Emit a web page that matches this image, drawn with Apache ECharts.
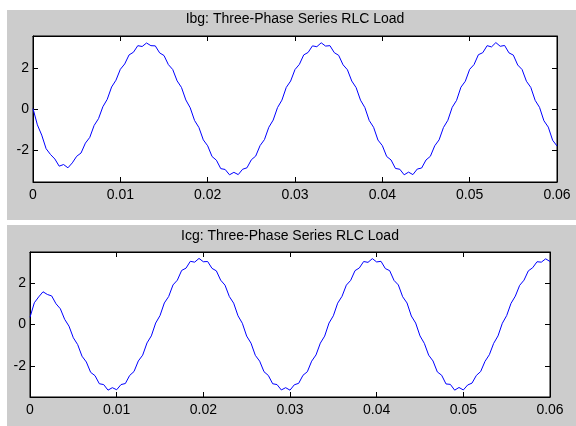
<!DOCTYPE html>
<html>
<head>
<meta charset="utf-8">
<script src="https://cdn.jsdelivr.net/npm/echarts@6/dist/echarts.min.js"></script>
<style>
  html, body { margin: 0; padding: 0; background: #ffffff; }
  #chart { width: 576px; height: 426px; }
</style>
</head>
<body>
<div id="chart"></div>
<script>
  // sample times (s)
  const sampleTimes = [
    0, 0.0005, 0.001, 0.0015, 0.002, 0.0025, 0.003, 0.0035, 0.004, 0.0045,
    0.005, 0.0055, 0.006, 0.0065, 0.007, 0.0075, 0.008, 0.0085, 0.009, 0.0095,
    0.01, 0.0105, 0.011, 0.0115, 0.012, 0.0125, 0.013, 0.0135, 0.014, 0.0145,
    0.015, 0.0155, 0.016, 0.0165, 0.017, 0.0175, 0.018, 0.0185, 0.019, 0.0195,
    0.02, 0.0205, 0.021, 0.0215, 0.022, 0.0225, 0.023, 0.0235, 0.024, 0.0245,
    0.025, 0.0255, 0.026, 0.0265, 0.027, 0.0275, 0.028, 0.0285, 0.029, 0.0295,
    0.03, 0.0305, 0.031, 0.0315, 0.032, 0.0325, 0.033, 0.0335, 0.034, 0.0345,
    0.035, 0.0355, 0.036, 0.0365, 0.037, 0.0375, 0.038, 0.0385, 0.039, 0.0395,
    0.04, 0.0405, 0.041, 0.0415, 0.042, 0.0425, 0.043, 0.0435, 0.044, 0.0445,
    0.045, 0.0455, 0.046, 0.0465, 0.047, 0.0475, 0.048, 0.0485, 0.049, 0.0495,
    0.05, 0.0505, 0.051, 0.0515, 0.052, 0.0525, 0.053, 0.0535, 0.054, 0.0545,
    0.055, 0.0555, 0.056, 0.0565, 0.057, 0.0575, 0.058, 0.0585, 0.059, 0.0595,
    0.06
  ];

  const ibgValues = [
    0.02, -0.77, -1.27, -1.93, -2.21, -2.43, -2.78, -2.70, -2.86, -2.62,
    -2.30, -2.14, -1.66, -1.38, -0.80, -0.47, 0.11, 0.47, 1.07, 1.40,
    1.93, 2.19, 2.63, 2.76, 3.08, 3.04, 3.21, 3.08, 3.07, 2.73,
    2.60, 2.16, 1.92, 1.37, 1.05, 0.44, 0.06, -0.56, -0.90, -1.50,
    -1.79, -2.31, -2.49, -2.90, -2.94, -3.20, -3.08, -3.19, -2.93, -2.86,
    -2.47, -2.29, -1.78, -1.49, -0.89, -0.54, 0.07, 0.43, 1.05, 1.36,
    1.92, 2.17, 2.63, 2.75, 3.07, 3.03, 3.22, 3.06, 3.08, 2.74,
    2.61, 2.15, 1.91, 1.36, 1.04, 0.43, 0.07, -0.56, -0.89, -1.51,
    -1.78, -2.31, -2.48, -2.89, -2.93, -3.20, -3.07, -3.19, -2.92, -2.87,
    -2.48, -2.30, -1.79, -1.50, -0.90, -0.55, 0.08, 0.42, 1.06, 1.35,
    1.93, 2.16, 2.64, 2.74, 3.08, 3.02, 3.23, 3.05, 3.09, 2.73,
    2.62, 2.14, 1.92, 1.35, 1.05, 0.42, 0.08, -0.57, -0.88, -1.52,
    -1.80
  ];

  const icgValues = [
    0.35, 1.05, 1.33, 1.58, 1.45, 1.38, 1.00, 0.76, 0.25, -0.08,
    -0.64, -0.97, -1.53, -1.81, -2.31, -2.47, -2.86, -2.90, -3.17, -3.05,
    -3.15, -2.90, -2.85, -2.46, -2.27, -1.76, -1.48, -0.89, -0.55, 0.07,
    0.43, 1.04, 1.35, 1.91, 2.14, 2.61, 2.72, 3.05, 3.01, 3.19,
    3.03, 3.04, 2.71, 2.59, 2.14, 1.90, 1.35, 1.03, 0.42, 0.06,
    -0.56, -0.90, -1.49, -1.77, -2.28, -2.46, -2.86, -2.90, -3.16, -3.05,
    -3.17, -2.91, -2.84, -2.45, -2.28, -1.77, -1.47, -0.90, -0.56, 0.07,
    0.42, 1.03, 1.36, 1.90, 2.13, 2.60, 2.73, 3.04, 3.00, 3.18,
    3.02, 3.05, 2.70, 2.60, 2.13, 1.91, 1.34, 1.04, 0.41, 0.07,
    -0.55, -0.91, -1.48, -1.76, -2.29, -2.45, -2.87, -2.89, -3.17, -3.04,
    -3.16, -2.92, -2.83, -2.46, -2.27, -1.78, -1.46, -0.91, -0.55, 0.06,
    0.43, 1.02, 1.37, 1.89, 2.14, 2.59, 2.74, 3.03, 3.01, 3.17,
    3.04
  ];

  const yTickValues = [-2, 0, 2];
  const titles = ['Ibg: Three-Phase Series RLC Load', 'Icg: Three-Phase Series RLC Load'];

  const FONT = 'Liberation Sans, Arial, sans-serif';
  const BLACK = '#000000';

  function pairs(values) {
    return sampleTimes.map((t, i) => [t, values[i]]);
  }

  function xAxisFor(gridIndex, position) {
    return {
      type: 'value',
      gridIndex: gridIndex,
      position: position,
      min: 0,
      max: 0.06,
      interval: 0.01,
      axisLine: { show: true, onZero: false, lineStyle: { color: BLACK, width: 1 } },
      axisTick: { show: true, inside: true, length: 5, lineStyle: { color: BLACK } },
      axisLabel: {
        show: position === 'bottom',
        color: BLACK,
        fontFamily: FONT,
        fontSize: 14,
        margin: 6
      },
      splitLine: { show: false }
    };
  }

  function yAxisFor(gridIndex, position, lim) {
    return {
      type: 'value',
      gridIndex: gridIndex,
      position: position,
      min: -lim,
      max: lim,
      axisLine: { show: true, onZero: false, lineStyle: { color: BLACK, width: 1 } },
      axisTick: { show: true, inside: true, length: 5, customValues: yTickValues, lineStyle: { color: BLACK } },
      axisLabel: {
        show: position === 'left',
        customValues: yTickValues,
        color: BLACK,
        fontFamily: FONT,
        fontSize: 14,
        margin: 4
      },
      splitLine: { show: false }
    };
  }

  const myChart = echarts.init(document.getElementById('chart'), null, { renderer: 'canvas' });
  const option = {
    backgroundColor: '#ffffff',
    animation: false,
    graphic: [
      { type: 'rect', z: -10, shape: { x: 7, y: 10, width: 569, height: 210 }, style: { fill: '#cccccc' } },
      { type: 'rect', z: -10, shape: { x: 7, y: 225, width: 569, height: 201 }, style: { fill: '#cccccc' } },
      { type: 'text', x: 295, y: 19, style: { text: titles[0], fill: BLACK, font: '14px ' + FONT, textAlign: 'center', textVerticalAlign: 'middle' } },
      { type: 'text', x: 290, y: 236, style: { text: titles[1], fill: BLACK, font: '14px ' + FONT, textAlign: 'center', textVerticalAlign: 'middle' } }
    ],
    grid: [
      { left: 33, right: 19, top: 36, height: 146, show: true, backgroundColor: '#ffffff', borderColor: BLACK, borderWidth: 1 },
      { left: 30, right: 26, top: 252, height: 145, show: true, backgroundColor: '#ffffff', borderColor: BLACK, borderWidth: 1 }
    ],
    xAxis: [
      xAxisFor(0, 'bottom'),
      xAxisFor(0, 'top'),
      xAxisFor(1, 'bottom'),
      xAxisFor(1, 'top')
    ],
    yAxis: [
      yAxisFor(0, 'left', 3.55),
      yAxisFor(0, 'right', 3.55),
      yAxisFor(1, 'left', 3.5),
      yAxisFor(1, 'right', 3.5)
    ],
    series: [
      {
        name: 'Ibg',
        type: 'line',
        xAxisIndex: 0,
        yAxisIndex: 0,
        data: pairs(ibgValues),
        showSymbol: false,
        lineStyle: { color: '#0000ff', width: 1 }
      },
      {
        name: 'Icg',
        type: 'line',
        xAxisIndex: 2,
        yAxisIndex: 2,
        data: pairs(icgValues),
        showSymbol: false,
        lineStyle: { color: '#0000ff', width: 1 }
      }
    ]
  };
  option && myChart.setOption(option);
</script>
</body>
</html>
